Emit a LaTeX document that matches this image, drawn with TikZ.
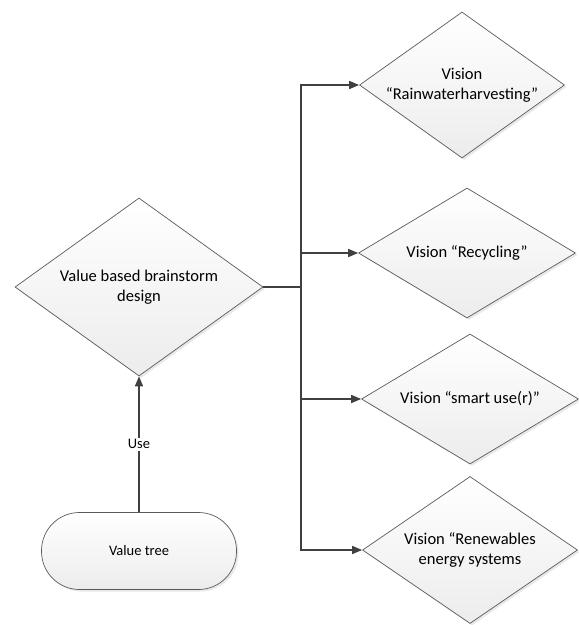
\documentclass[tikz,border=0pt]{standalone}
\usepackage{fontspec}
\setmainfont{Carlito}
\usetikzlibrary{shapes.geometric,arrows.meta,shadows}
\definecolor{linegray}{HTML}{404040}
\definecolor{edgegray}{HTML}{5A5A5A}
\definecolor{fillbot}{HTML}{ECECEC}
\tikzset{
  shapebase/.style={draw=edgegray, line width=0.7pt, top color=white, bottom color=fillbot,
    drop shadow={opacity=0.18, shadow xshift=2pt, shadow yshift=-2pt},
    inner sep=0pt, align=center, text=black},
  decision/.style={shapebase, diamond, aspect=1.5, font=\fontsize{16.5}{20}\selectfont},
  terminal/.style={shapebase, rectangle, rounded corners=38pt, font=\fontsize{14.5}{17}\selectfont},
  conn/.style={draw=linegray, line width=1.6pt},
  arr/.style={conn, -{Triangle[length=10pt,width=8pt]}},
}
\begin{document}
\begin{tikzpicture}[x=1pt,y=-1pt]
\useasboundingbox (0,0) rectangle (579,625);

% main decision and its source
\node[decision, minimum width=248pt, minimum height=178pt]
  (main) at (139,287) {Value based brainstorm\\design};
\node[terminal, minimum width=195pt, minimum height=77pt]
  (tree) at (139,551) {Value tree};

% visions
\node[decision, minimum width=205pt, minimum height=146pt]
  (v1) at (462,85) {Vision\\“Rainwaterharvesting”};
\node[decision, minimum width=217pt, minimum height=130pt]
  (v2) at (467,253) {Vision “Recycling”};
\node[decision, minimum width=217pt, minimum height=130pt]
  (v3) at (470,399) {Vision “smart use(r)”};
\node[decision, minimum width=215pt, minimum height=147pt]
  (v4) at (470,550) {Vision “Renewables\\energy systems};

% connectors
\coordinate (j) at (301,287);
\draw[arr] (tree.north) -- node[fill=white, inner sep=2pt, font=\fontsize{14.5}{17}\selectfont] {Use} (main.south);
\draw[conn, line width=2pt] (main.east) -- (j);
\draw[arr] (j) |- (v1.west);
\draw[arr] (j) |- (v2.west);
\draw[arr] (j) |- (v3.west);
\draw[arr] (j) |- (v4.west);
\end{tikzpicture}
\end{document}
